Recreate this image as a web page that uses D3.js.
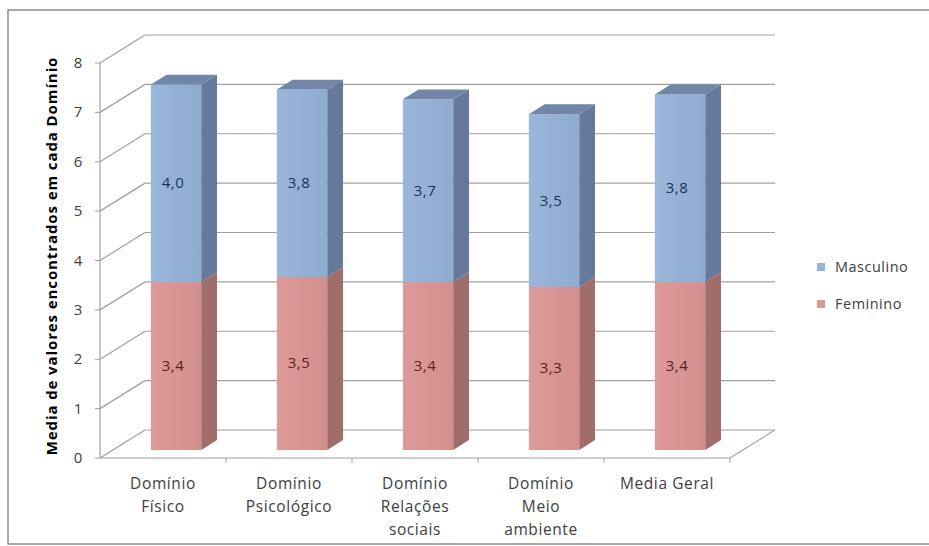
<!DOCTYPE html>
<html>
<head>
<meta charset="utf-8">
<script src="https://cdn.jsdelivr.net/npm/d3@7"></script>
<style>
  body { margin: 0; background: #fff; }
  svg text { font-family: "Open Sans", "Noto Sans", sans-serif; }
</style>
</head>
<body>
<div id="chart"></div>
<script>
// chart values
var categories = [
  ['Domínio', 'Físico'],
  ['Domínio', 'Psicológico'],
  ['Domínio', 'Relações', 'sociais'],
  ['Domínio', 'Meio', 'ambiente'],
  ['Media Geral']
];
var feminino = [3.4, 3.5, 3.4, 3.3, 3.4];
var masculino = [4.0, 3.8, 3.7, 3.5, 3.8];
var yTicks = [0, 1, 2, 3, 4, 5, 6, 7, 8];
var seriesNames = ['Masculino', 'Feminino'];

var W = 929, H = 546;
var DEPTH_X = 45, DEPTH_Y = -28;   // offset of the back wall
var BAR_D0 = 0.29, BAR_D1 = 0.64;  // bar depth span (fraction of depth)

var svg = d3.select('#chart').append('svg')
  .attr('width', W).attr('height', H);

// outer border
svg.append('rect')
  .attr('x', 8).attr('y', 10).attr('width', W).attr('height', 534)
  .attr('fill', 'none').attr('stroke', '#8c8c8c').attr('stroke-width', 1.5);

var y = d3.scaleLinear().domain([0, 8]).range([458, 63]);
var x = d3.scaleBand().domain(d3.range(categories.length)).range([100, 730]).padding(0);

// project a point (front x, value, depth 0..1)
function P(xf, v, d) {
  return [xf + d * DEPTH_X, y(v) + d * DEPTH_Y];
}
function poly(pts) { return pts.map(p => p.join(',')).join(' '); }

var grid = '#a0a0a0';
var g = svg.append('g');

// back wall + left wall gridlines
yTicks.forEach(v => {
  var a = P(x.range()[0], v, 1), b = P(x.range()[1], v, 1), f = P(x.range()[0], v, 0);
  g.append('line').attr('x1', a[0]).attr('y1', a[1]).attr('x2', b[0]).attr('y2', b[1])
    .attr('stroke', grid).attr('stroke-width', 1.2);
  g.append('line').attr('x1', f[0]).attr('y1', f[1]).attr('x2', a[0]).attr('y2', a[1])
    .attr('stroke', grid).attr('stroke-width', 1.2);
  // tick on the axis
  g.append('line').attr('x1', f[0] - 5).attr('y1', f[1]).attr('x2', f[0]).attr('y2', f[1])
    .attr('stroke', grid);
  g.append('text').attr('x', f[0] - 22).attr('y', f[1] + 5)
    .attr('text-anchor', 'middle').attr('font-size', 15).attr('fill', '#404040')
    .text(v);
});

// vertical axis
g.append('line').attr('x1', 100).attr('x2', 100).attr('y1', y(8)).attr('y2', y(0))
  .attr('stroke', grid).attr('stroke-width', 1.2);

// floor front edge + right edge
var fr = P(x.range()[1], 0, 0), br = P(x.range()[1], 0, 1);
g.append('line').attr('x1', 100).attr('y1', y(0)).attr('x2', fr[0]).attr('y2', fr[1])
  .attr('stroke', grid).attr('stroke-width', 1.2);
g.append('line').attr('x1', fr[0]).attr('y1', fr[1]).attr('x2', br[0]).attr('y2', br[1])
  .attr('stroke', grid).attr('stroke-width', 1.2);
d3.range(1, categories.length + 1).forEach(i => {
  var xx = x.range()[0] + i * x.step();
  g.append('line').attr('x1', xx).attr('x2', xx).attr('y1', y(0)).attr('y2', y(0) + 5)
    .attr('stroke', grid);
});

// category labels
categories.forEach((lines, i) => {
  var t = g.append('text').attr('text-anchor', 'middle')
    .attr('font-size', 15.5).attr('fill', '#404040').attr('letter-spacing', 0.6);
  lines.forEach((ln, k) => {
    t.append('tspan').attr('x', x(i) + x.bandwidth() / 2).attr('y', 489 + k * 23).text(ln);
  });
});

// gradients for front faces
var defs = svg.append('defs');
function grad(id, c1, c2) {
  var lg = defs.append('linearGradient').attr('id', id)
    .attr('x1', 0).attr('x2', 1).attr('y1', 0).attr('y2', 0);
  lg.append('stop').attr('offset', 0).attr('stop-color', c1);
  lg.append('stop').attr('offset', 1).attr('stop-color', c2);
}
grad('gM', '#9ab7da', '#8eabd0');
grad('gF', '#dc9a98', '#d48f8d');

var styles = {
  Feminino: { front: 'url(#gF)', side: '#a06d6b', top: '#c08583', label: '#5a2220' },
  Masculino: { front: 'url(#gM)', side: '#66799b', top: '#7186a8', label: '#1f3358' }
};

var barW = x.bandwidth() * 0.4;
var bars = svg.append('g');
categories.forEach((c, i) => {
  var xl = x(i) + (x.bandwidth() - barW) / 2, xr = xl + barW;
  var segs = [
    { name: 'Feminino', v0: 0, v1: feminino[i], val: feminino[i] },
    { name: 'Masculino', v0: feminino[i], v1: feminino[i] + masculino[i], val: masculino[i] }
  ];
  segs.forEach((s, k) => {
    var st = styles[s.name];
    // front
    bars.append('polygon').attr('points', poly([
      P(xl, s.v0, BAR_D0), P(xr, s.v0, BAR_D0), P(xr, s.v1, BAR_D0), P(xl, s.v1, BAR_D0)
    ])).attr('fill', st.front);
    // side
    bars.append('polygon').attr('points', poly([
      P(xr, s.v0, BAR_D0), P(xr, s.v1, BAR_D0), P(xr, s.v1, BAR_D1), P(xr, s.v0, BAR_D1)
    ])).attr('fill', st.side);
    if (k === segs.length - 1) {
      bars.append('polygon').attr('points', poly([
        P(xl, s.v1, BAR_D0), P(xr, s.v1, BAR_D0), P(xr, s.v1, BAR_D1), P(xl, s.v1, BAR_D1)
      ])).attr('fill', st.top);
    }
    var c0 = P((xl + xr) / 2, (s.v0 + s.v1) / 2, BAR_D0);
    bars.append('text').attr('x', c0[0] - 3).attr('y', c0[1] + 5)
      .attr('text-anchor', 'middle').attr('font-size', 15).attr('letter-spacing', 0.6)
      .attr('fill', st.label)
      .text(d3.format('.1f')(s.val).replace('.', ','));
  });
});

// y-axis title
svg.append('text')
  .attr('transform', 'translate(57,256) rotate(-90)')
  .attr('text-anchor', 'middle').attr('font-size', 15).attr('font-weight', 'bold')
  .attr('letter-spacing', 0.9)
  .attr('fill', '#000')
  .text('Media de valores encontrados em cada Domínio');

// legend
var legendColors = { Masculino: '#95b3d7', Feminino: '#d99694' };
var leg = svg.append('g').attr('transform', 'translate(817,0)');
seriesNames.forEach((n, i) => {
  var yy = 267 + i * 37;
  leg.append('rect').attr('x', 0).attr('y', yy - 4).attr('width', 8).attr('height', 8)
    .attr('fill', legendColors[n]);
  leg.append('text').attr('x', 18).attr('y', yy + 5).attr('font-size', 14.5)
    .attr('letter-spacing', 0.5).attr('fill', '#404040').text(n);
});
</script>
</body>
</html>
